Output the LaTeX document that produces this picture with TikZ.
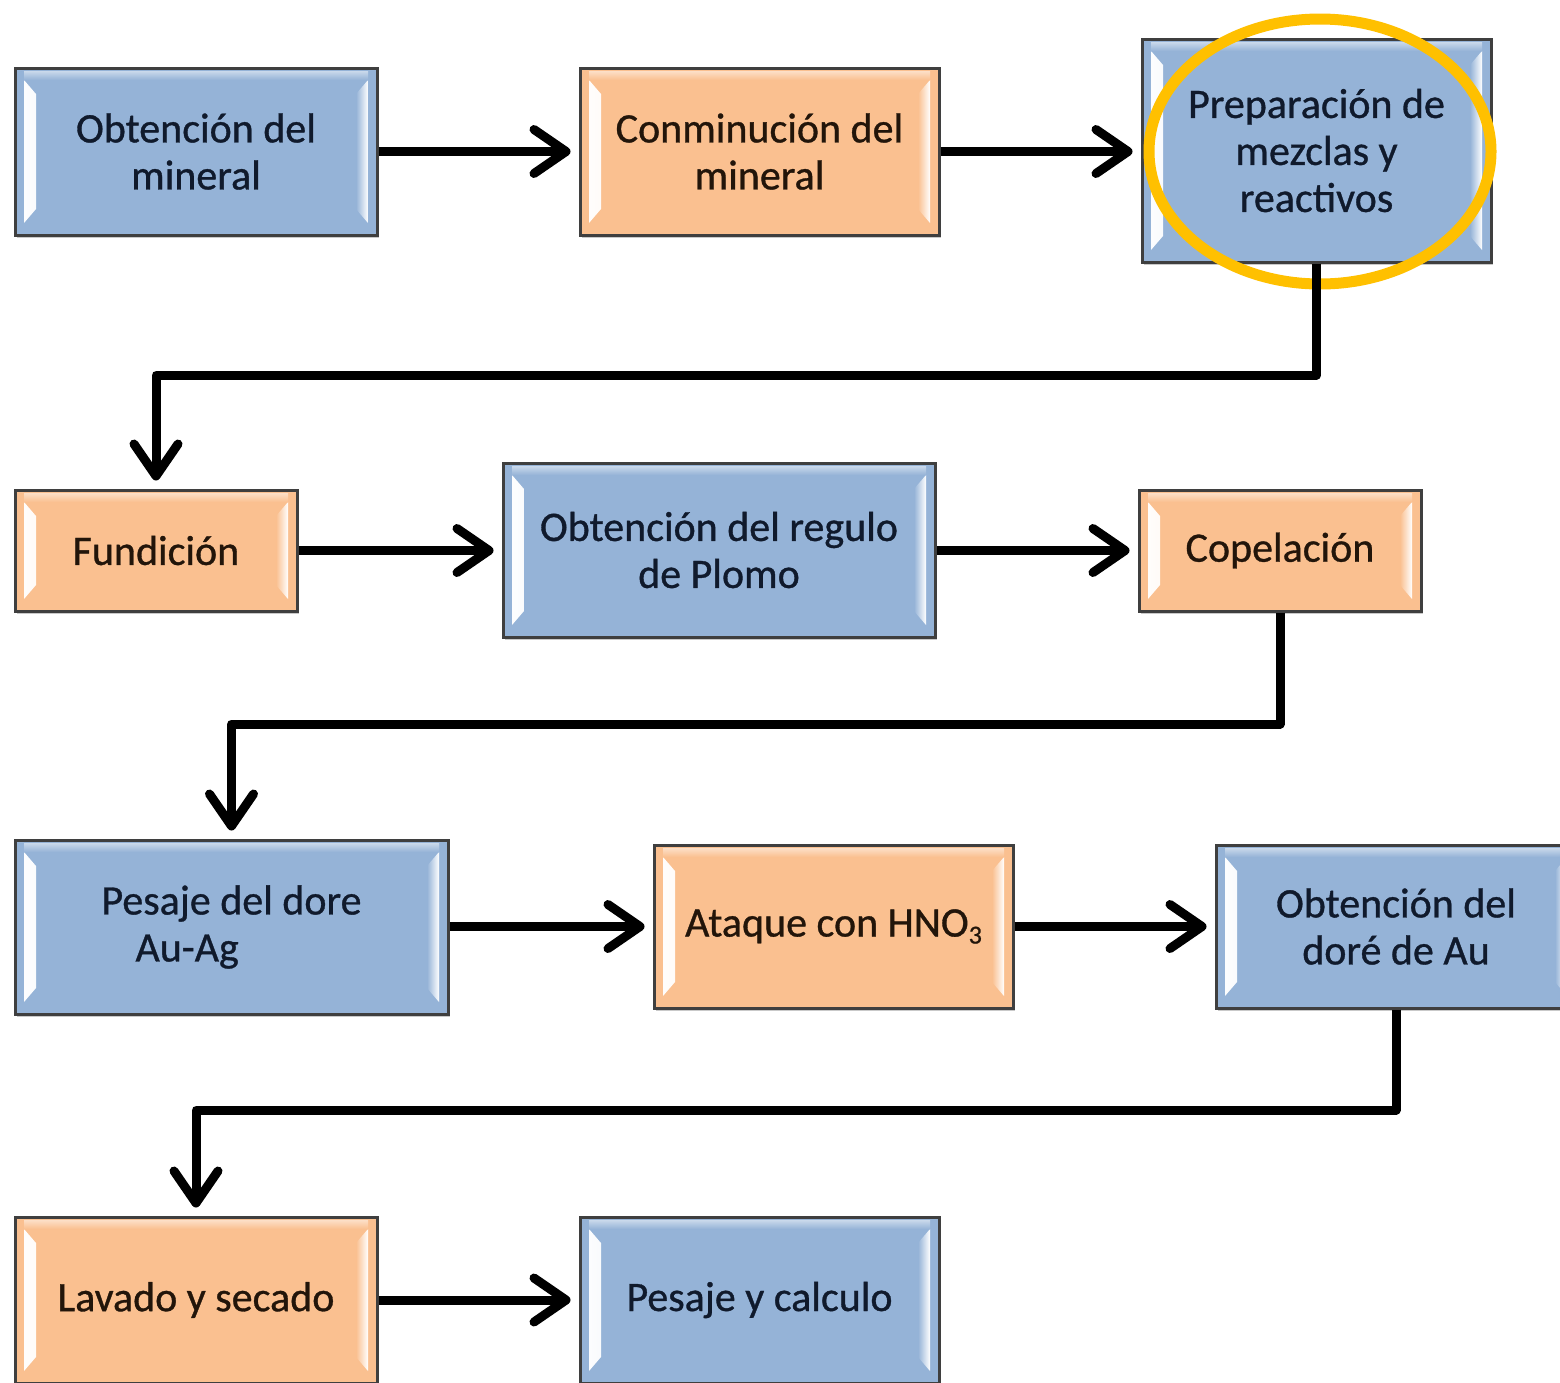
\documentclass[tikz,border=0pt]{standalone}
\usepackage{fontspec}
\setmainfont{Carlito}
\newfontfamily\boxfont{Carlito}[FakeBold=0.8]
\usetikzlibrary{arrows.meta,shadows,shapes.geometric}
\definecolor{boxblue}{HTML}{95B3D7}
\definecolor{boxorange}{HTML}{FAC090}
\definecolor{boxedge}{HTML}{3F3F3F}
\definecolor{txtblue}{HTML}{101A2C}
\definecolor{txtorange}{HTML}{22150A}
\definecolor{ringgold}{HTML}{FFC000}
\tikzset{
  boxbase/.style={rectangle, draw=boxedge, line width=3pt, fill=#1,
    inner sep=0pt, align=center,
    font=\boxfont\fontsize{42}{47}\selectfont,
    drop shadow={shadow xshift=2pt, shadow yshift=-3pt, opacity=.35, fill=black!60},
    path picture={
      \shade[left color=white, right color=#1]
        ([shift={(9pt,-12pt)}]path picture bounding box.north west) --
        ([shift={(21pt,-26pt)}]path picture bounding box.north west) --
        ([shift={(21pt,26pt)}]path picture bounding box.south west) --
        ([shift={(9pt,12pt)}]path picture bounding box.south west) -- cycle;
      \shade[right color=white, left color=#1]
        ([shift={(-9pt,-12pt)}]path picture bounding box.north east) --
        ([shift={(-21pt,-26pt)}]path picture bounding box.north east) --
        ([shift={(-21pt,26pt)}]path picture bounding box.south east) --
        ([shift={(-9pt,12pt)}]path picture bounding box.south east) -- cycle;
      \shade[top color=white, bottom color=#1, opacity=.5]
        ([shift={(9pt,-3pt)}]path picture bounding box.north west) rectangle
        ([shift={(-9pt,-12pt)}]path picture bounding box.north east);
    }},
  bluebox/.style={boxbase=boxblue, text=txtblue},
  orangebox/.style={boxbase=boxorange, text=txtorange},
  flow/.style={line width=9pt, black, line join=round,
    -{Straight Barb[length=32pt,width=44pt,round]}, shorten >=8pt},
  ring/.style={draw=ringgold, line width=11pt}
}
\begin{document}
\begin{tikzpicture}[x=1pt,y=-1pt]
\useasboundingbox (0,0) rectangle (1560,1382);
\clip (0,0) rectangle (1560,1382);
\fill[white] (0,0) rectangle (1560,1382);

% row 1
\node[bluebox, minimum width=362pt, minimum height=167pt] (b1) at (196,151.5) {Obtención del\\mineral};
\node[orangebox, minimum width=359pt, minimum height=167pt] (b2) at (759.5,151.5) {Conminución del\\mineral};
\node[bluebox, minimum width=349pt, minimum height=223pt] (b3) at (1316.5,150.5) {Preparación de\\mezclas y\\reactivos};
% row 2
\node[orangebox, minimum width=282pt, minimum height=121pt] (b4) at (156,550.5) {Fundición};
\node[bluebox, minimum width=432pt, minimum height=174pt] (b5) at (719,550) {Obtención del regulo\\de Plomo};
\node[orangebox, minimum width=282pt, minimum height=121pt] (b6) at (1280,550.5) {Copelación};
% row 3
\node[bluebox, minimum width=433pt, minimum height=174pt, align=left] (b7) at (231.5,927) {Pesaje del dore\\\hspace*{34pt}Au-Ag};
\node[orangebox, minimum width=359pt, minimum height=163pt] (b8) at (833.5,926.5) {Ataque con HNO\raisebox{-0.35ex}{\fontsize{26}{26}\selectfont 3}};
\node[bluebox, minimum width=360pt, minimum height=163pt] (b9) at (1396,926.5) {Obtención del\\doré de Au};
% row 4
\node[orangebox, minimum width=362pt, minimum height=166pt] (b10) at (196,1300) {Lavado y secado};
\node[bluebox, minimum width=359pt, minimum height=166pt] (b11) at (759.5,1300) {Pesaje y calculo};

% highlight ring
\node[ring, ellipse, minimum width=342pt, minimum height=265pt, inner sep=0pt] (ring) at (1320,151.5) {};

% connectors
\draw[flow] (b1.east) -- (b2.west);
\draw[flow] (b2.east) -- (b3.west |- b2.east);
\draw[flow] (b3.south) -- (b3.south |- 0,375) -| (b4.north);
\draw[flow] (b4.east) -- (b5.west |- b4.east);
\draw[flow] (b5.east |- b6.west) -- (b6.west);
\draw[flow] (b6.south) -- (b6.south |- 0,724) -| (b7.north);
\draw[flow] (b7.east |- b8.west) -- (b8.west);
\draw[flow] (b8.east) -- (b9.west);
\draw[flow] (b9.south) -- (b9.south |- 0,1110) -| (b10.north);
\draw[flow] (b10.east) -- (b11.west);
\end{tikzpicture}
\end{document}
